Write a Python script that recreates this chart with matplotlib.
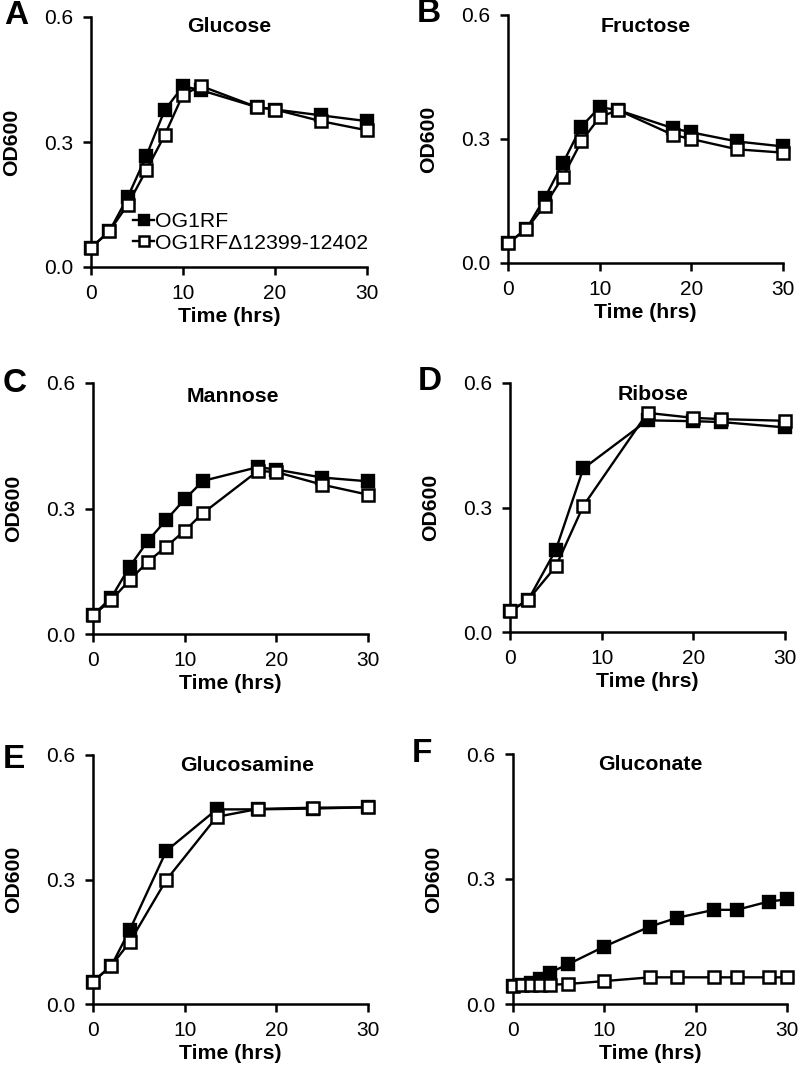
import matplotlib
matplotlib.use("Agg")
import matplotlib.pyplot as plt
from matplotlib.ticker import FormatStrFormatter

plt.rcParams['font.family'] = ['Liberation Sans', 'DejaVu Sans']

# ---- data ----
glucose_t = [0, 2, 4, 6, 8, 10, 12, 18, 20, 25, 30]
glucose_wt = [0.046, 0.086, 0.168, 0.266, 0.376, 0.434, 0.424, 0.384, 0.378, 0.364, 0.350]
glucose_mut = [0.046, 0.086, 0.150, 0.232, 0.316, 0.414, 0.434, 0.384, 0.378, 0.350, 0.328]

fructose_t = [0, 2, 4, 6, 8, 10, 12, 18, 20, 25, 30]
fructose_wt = [0.048, 0.082, 0.157, 0.242, 0.330, 0.377, 0.370, 0.326, 0.316, 0.294, 0.282]
fructose_mut = [0.048, 0.082, 0.139, 0.209, 0.294, 0.353, 0.370, 0.310, 0.300, 0.275, 0.267]

mannose_t = [0, 2, 4, 6, 8, 10, 12, 18, 20, 25, 30]
mannose_wt = [0.045, 0.087, 0.161, 0.223, 0.273, 0.322, 0.366, 0.399, 0.393, 0.374, 0.365]
mannose_mut = [0.045, 0.081, 0.129, 0.173, 0.209, 0.247, 0.289, 0.390, 0.387, 0.357, 0.333]

ribose_t = [0, 2, 5, 8, 15, 20, 23, 30]
ribose_wt = [0.050, 0.078, 0.198, 0.394, 0.510, 0.508, 0.506, 0.493]
ribose_mut = [0.050, 0.078, 0.158, 0.304, 0.528, 0.516, 0.513, 0.509]

glucosamine_t = [0, 2, 4, 8, 13.5, 18, 24, 30]
glucosamine_wt = [0.054, 0.092, 0.178, 0.369, 0.469, 0.469, 0.471, 0.474]
glucosamine_mut = [0.054, 0.092, 0.149, 0.299, 0.451, 0.470, 0.473, 0.474]

gluconate_t = [0, 1, 2, 3, 4, 6, 10, 15, 18, 22, 24.5, 28, 30]
gluconate_wt = [0.043, 0.046, 0.050, 0.060, 0.075, 0.095, 0.138, 0.186, 0.207, 0.226, 0.226, 0.246, 0.251]
gluconate_mut = [0.043, 0.046, 0.046, 0.046, 0.046, 0.048, 0.055, 0.064, 0.064, 0.064, 0.064, 0.064, 0.064]

panel_letters = ['A', 'B', 'C', 'D', 'E', 'F']
panel_titles = ['Glucose', 'Fructose', 'Mannose', 'Ribose', 'Glucosamine', 'Gluconate']
series_labels = ['OG1RF', 'OG1RF\u039412399-12402']
x_ticks = [0, 10, 20, 30]
y_ticks = [0.0, 0.3, 0.6]

panels = [
    (glucose_t, glucose_wt, glucose_mut),
    (fructose_t, fructose_wt, fructose_mut),
    (mannose_t, mannose_wt, mannose_mut),
    (ribose_t, ribose_wt, ribose_mut),
    (glucosamine_t, glucosamine_wt, glucosamine_mut),
    (gluconate_t, gluconate_wt, gluconate_mut),
]

# ---- layout (pixel boxes: left, right, top, bottom) ----
W, H = 800, 1072
boxes = [(91, 367, 17, 267), (508, 783, 15, 263),
         (93, 368, 383, 634), (510, 785, 383, 632),
         (93, 368, 755, 1004), (513, 787, 754, 1004)]
title_pos = [(0.5, 0.964), (0.5, 0.953), (0.51, 0.945), (0.52, 0.952), (0.56, 0.956), (0.5, 0.956)]
letter_pos = [(16.5, 15), (429, 14), (15, 384), (430, 382), (14, 759), (422, 753)]

fig = plt.figure(figsize=(W / 100, H / 100), dpi=100)

for i, ((t, wt, mut), (l, r, tp, b)) in enumerate(zip(panels, boxes)):
    ax = fig.add_axes([l / W, 1 - b / H, (r - l) / W, (b - tp) / H])
    ax.plot(t, wt, '-', color='black', lw=1.7, marker='s', ms=8.5,
            mfc='black', mec='black', mew=1.7, clip_on=False, zorder=3,
            label=series_labels[0])
    ax.plot(t, mut, '-', color='black', lw=1.7, marker='s', ms=8.5,
            mfc='white', mec='black', mew=1.8, clip_on=False, zorder=4,
            label=series_labels[1])
    ax.set_xlim(0, 30)
    ax.set_ylim(0, 0.6)
    ax.set_xticks(x_ticks)
    ax.set_yticks(y_ticks)
    ax.yaxis.set_major_formatter(FormatStrFormatter('%.1f'))
    for s in ['top', 'right']:
        ax.spines[s].set_visible(False)
    for s in ['left', 'bottom']:
        ax.spines[s].set_linewidth(1.8)
    ax.tick_params(direction='out', length=6, width=1.8, labelsize=15)
    ax.tick_params(axis='x', pad=6)
    ax.tick_params(axis='y', pad=7)
    ax.set_xlabel('Time (hrs)', fontsize=15.3, fontweight='bold', labelpad=3)
    ax.set_ylabel('OD600', fontsize=15.3, fontweight='bold', labelpad=16)
    ax.text(title_pos[i][0], title_pos[i][1], panel_titles[i], transform=ax.transAxes,
            ha='center', va='center', fontsize=15.3, fontweight='bold')
    fig.text(letter_pos[i][0] / W, 1 - letter_pos[i][1] / H, panel_letters[i],
             ha='center', va='center', fontsize=24, fontweight='bold')
    if i == 0:
        ax.legend(loc='upper left', bbox_to_anchor=(0.152, 0.22), frameon=False,
                  fontsize=15.3, handlelength=1.0, handletextpad=0.05,
                  labelspacing=0.12, borderpad=0, borderaxespad=0,
                  markerscale=0.8)

fig.savefig('out.png', dpi=100)
